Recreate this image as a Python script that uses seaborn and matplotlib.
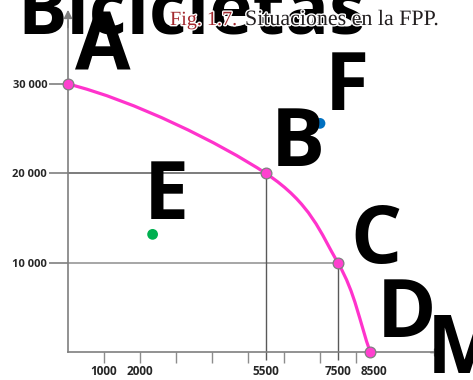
import numpy as np
import matplotlib
matplotlib.use("Agg")
import matplotlib.pyplot as plt
import matplotlib.patheffects as pe
from matplotlib.path import Path
from matplotlib.patches import PathPatch
import pandas as pd
import seaborn as sns

# Data
frontier_labels = ["A", "B", "C", "D"]
frontier_x = [0, 5500, 7500, 8400]
frontier_y = [30000, 20000, 10000, 0]

other_labels = ["E", "F"]
other_x = [2350, 7000]
other_y = [13200, 25600]

x_tick_values = [1000, 2000, 3000, 4000, 5000, 6000, 7000, 8000]
x_label_values = [1000, 2000, 5500, 7500, 8500]
y_tick_values = [10000, 20000, 30000]
y_tick_labels = ["10 000", "20 000", "30 000"]

y_title = "Bicicletas"
x_title = "M"
caption_num = "Fig. 1.7."
caption_text = "Situaciones en la FPP."

frontier = pd.DataFrame({"label": frontier_labels, "x": frontier_x, "y": frontier_y})
others = pd.DataFrame({"label": other_labels, "x": other_x, "y": other_y})

sns.set_style("white")
plt.rcParams["font.family"] = ["Open Sans", "DejaVu Sans"]

W, H = 473, 380
fig = plt.figure(figsize=(W / 100, H / 100), dpi=100)
ax = fig.add_axes([0, 0, 1, 1])
ax.set_xlim(-1889, 11250)
ax.set_ylim(-3073, 39385)
ax.patch.set_alpha(0)

# Axes drawn through the origin
for s in ["top", "right"]:
    ax.spines[s].set_visible(False)
ax.spines["left"].set_position(("data", 0))
ax.spines["bottom"].set_position(("data", 0))
ax.spines["left"].set_bounds(0, 37000)
ax.spines["bottom"].set_bounds(0, 10300)
for s in ["left", "bottom"]:
    ax.spines[s].set_color("#7f7f7f")
    ax.spines[s].set_linewidth(1.2)
ax.annotate("", xy=(10500, 0), xytext=(10000, 0),
            arrowprops=dict(arrowstyle="-|>", color="#7f7f7f", lw=1.2, mutation_scale=12))
ax.annotate("", xy=(0, 38600), xytext=(0, 36000),
            arrowprops=dict(arrowstyle="-|>", color="#7f7f7f", lw=1.2, mutation_scale=12))

# x ticks (unlabelled) and the few labelled values
ax.set_xticks(x_tick_values)
ax.set_xticklabels([""] * len(x_tick_values))
ax.tick_params(axis="x", bottom=True, direction="out", length=8, width=1, color="#8c8c8c")
for v in x_label_values:
    ax.text(v, -2150, f"{v}", ha="center", va="center", fontsize=8.5,
            fontweight="bold", color="#262626")

ax.set_yticks(y_tick_values)
ax.set_yticklabels(y_tick_labels, fontsize=8, fontweight="bold", color="#262626")
ax.tick_params(axis="y", left=True, direction="out", length=14, width=1.2,
               color="#7f7f7f", pad=1)

# guide lines from B and C to both axes
ax.hlines(frontier_y[1], 0, frontier_x[1], color="#595959", lw=1.1, zorder=1)
ax.hlines(frontier_y[2], 0, frontier_x[2], color="#a6a6a6", lw=1.4, zorder=1)
ax.vlines(frontier_x[1:3], -800, frontier_y[1:3], color="#595959", lw=1.0, zorder=1)

# smooth frontier: cubic Bezier pieces through the points
P = np.column_stack([frontier_x, frontier_y]).astype(float)
T = np.zeros_like(P)
T[1:-1] = (P[2:] - P[:-2]) / 2
T[0] = [P[1, 0] - P[0, 0], 0.55 * (P[1, 1] - P[0, 1])]
T[-1] = P[-1] - P[-2]
verts, codes = [P[0]], [Path.MOVETO]
for i in range(len(P) - 1):
    verts += [P[i] + T[i] / 3, P[i + 1] - T[i + 1] / 3, P[i + 1]]
    codes += [Path.CURVE4] * 3
ax.add_patch(PathPatch(Path(verts, codes), fill=False, edgecolor="#ff33cc", lw=2.3, zorder=2))

sns.scatterplot(data=frontier, x="x", y="y", ax=ax, s=60, color="#ff40cf",
                edgecolor="#7f7f7f", linewidth=0.9, zorder=3, legend=False)
sns.scatterplot(data=others, x="x", y="y", hue="label", ax=ax, s=60,
                palette=["#00b050", "#0070c0"], linewidth=0, zorder=3, legend=False)
ax.set_xlabel("")
ax.set_ylabel("")

# big letters next to the points (offsets in pixels)
big = dict(fontsize=58, fontweight="bold", color="black", ha="center", va="baseline", zorder=4)
offsets = {"A": (35, 13), "B": (32, 7), "C": (38, 0), "D": (36, 15), "E": (14, 15), "F": (27, 13)}
for lab, x, y in list(zip(frontier_labels, frontier_x, frontier_y)) + list(zip(other_labels, other_x, other_y)):
    dx, dy = offsets[lab]
    ax.annotate(lab, (x, y), xytext=(dx * 0.72, dy * 0.72), textcoords="offset points", **big)

fig.text(17 / W, 1 - 33 / H, y_title, ha="left", va="baseline", fontsize=53,
         fontweight="bold", color="black", zorder=5)
fig.text(427 / W, 1 - 373 / H, x_title, ha="left", va="baseline", fontsize=58,
         fontweight="bold", color="black", zorder=5)

halo = [pe.withStroke(linewidth=2, foreground="white")]
fig.text(170 / W, 1 - 25 / H, caption_num, ha="left", va="baseline", fontsize=14.5,
         family="Liberation Serif", color="#a3282e", path_effects=halo, zorder=6)
fig.text(245 / W, 1 - 25 / H, caption_text, ha="left", va="baseline", fontsize=15.8,
         family="Liberation Serif", color="#231f20", path_effects=halo, zorder=6)

fig.savefig("out.png", dpi=100)
